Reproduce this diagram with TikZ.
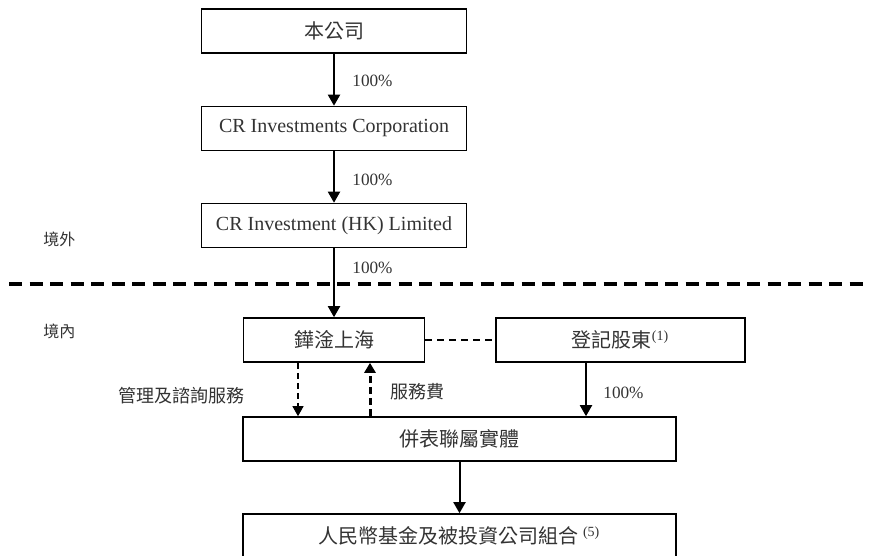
\documentclass[tikz,border=0pt]{standalone}
\usepackage{fontspec}
\setmainfont{Liberation Serif}
\newfontfamily\cjk{Noto Sans CJK TC}
\usetikzlibrary{arrows.meta}

\begin{document}
\begin{tikzpicture}[x=0.5pt, y=-0.5pt]
	\tikzstyle{box} = [draw, line width=0.8pt, inner sep=0pt, minimum height=22pt, text=black!80, font=\fontsize{10}{12}\selectfont]
	\tikzstyle{pct} = [inner sep=0pt, anchor=west, text=black!80, font=\fontsize{8.6}{10}\selectfont]
	\tikzstyle{lbl} = [inner sep=0pt, text=black!80, font=\cjk\fontsize{9}{11}\selectfont]
	\tikzstyle{own} = [-{Triangle[width=6pt, length=5.5pt]}, line width=1pt]
	\tikzstyle{svc} = [-{Triangle[width=5.5pt, length=5pt]}, line width=0.6pt, dash pattern=on 3pt off 2pt]
	\tikzstyle{fee} = [-{Triangle[width=5.5pt, length=5pt]}, line width=1.5pt, dash pattern=on 3.5pt off 2pt]
	\tikzstyle{link} = [line width=1pt, dash pattern=on 3.5pt off 2.5pt]
	\tikzstyle{border} = [line width=1.6pt, dash pattern=on 6.5pt off 3.75pt]
	\clip (0,0) rectangle (869,556);
	\useasboundingbox (0,0) rectangle (869,556);
	\node[box, minimum width=132.5pt] (co) at (334, 31) {\cjk 本公司};
	\node[box, minimum width=132.5pt] (cri) at (334, 128.5) {CR Investments Corporation};
	\node[box, minimum width=132.5pt] (hk) at (334, 225.5) {CR Investment (HK) Limited};
	\node[box, minimum width=90.5pt] (hs) at (334, 340) {\cjk 鏵淦上海};
	\node[box, minimum width=124.5pt] (reg) at (620.5, 340) {\cjk 登記股東\textsuperscript{\rmfamily (1)}};
	\node[box, minimum width=216.5pt] (cons) at (459.5, 439) {\cjk 併表聯屬實體};
	\node[box, minimum width=216.5pt] (fund) at (459.5, 536) {\cjk 人民幣基金及被投資公司組合 \textsuperscript{\rmfamily (5)}};
	\node[pct] (p1) at (352, 81) {100\%};
	\node[pct] (p2) at (352, 180) {100\%};
	\node[pct] (p3) at (352, 268) {100\%};
	\node[pct] (p4) at (603, 393) {100\%};
	\node[lbl, anchor=east] (mgmt) at (245, 396) {管理及諮詢服務};
	\node[lbl, anchor=west] (fees) at (390, 392) {服務費};
	\node[lbl, anchor=west, font=\cjk\fontsize{8}{10}\selectfont] (off) at (43, 239) {境外};
	\node[lbl, anchor=west, font=\cjk\fontsize{8}{10}\selectfont] (on) at (43, 331) {境內};
	\draw[border] (9,284) -- (869,284);
	\draw[own] (co) -- (cri);
	\draw[own] (cri) -- (hk);
	\draw[own] (hk) -- (hs);
	\draw[own] (reg.south -| 586,0) -- (cons.north -| 586,0);
	\draw[own] (cons) -- (fund);
	\draw[link] (hs) -- (reg);
	\draw[svc] (hs.south -| 298,0) -- (cons.north -| 298,0);
	\draw[fee] (cons.north -| 370,0) -- (hs.south -| 370,0);
\end{tikzpicture}
\end{document}
